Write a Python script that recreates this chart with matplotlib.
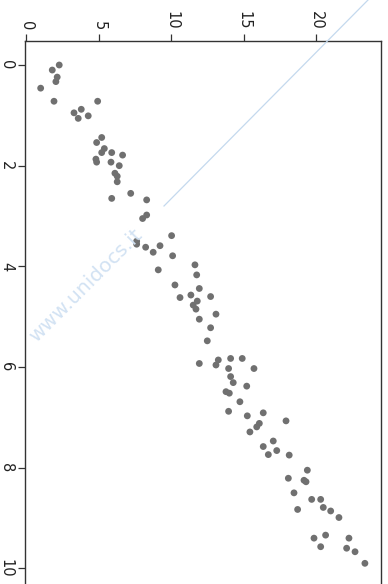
import matplotlib
matplotlib.use("Agg")
import matplotlib.pyplot as plt
from matplotlib.lines import Line2D

# scatter data (x runs down the page, y runs across: the chart is turned 90 degrees)
x_vals = [0.00, 0.10, 0.24, 0.33, 0.46, 0.72, 0.72, 0.95, 0.88, 1.06,
          1.01, 1.44, 1.54, 1.66, 1.74, 1.74, 1.79, 1.87, 1.93, 1.93,
          2.00, 2.15, 2.21, 2.32, 2.55, 2.65, 2.68, 3.05, 2.98, 3.50,
          3.56, 3.62, 3.72, 3.59, 3.39, 3.79, 4.07, 3.97, 4.17, 4.37,
          4.44, 4.62, 4.57, 4.60, 4.69, 4.77, 4.85, 4.95, 5.05, 5.22,
          5.48, 5.93, 5.86, 5.96, 5.83, 5.83, 6.03, 6.03, 6.19, 6.31,
          6.38, 6.49, 6.52, 6.69, 6.88, 6.97, 6.91, 7.07, 7.12, 7.19,
          7.29, 7.47, 7.58, 7.66, 7.74, 7.75, 8.05, 8.21, 8.25, 8.28,
          8.50, 8.63, 8.63, 8.79, 8.86, 8.83, 8.99, 9.40, 9.34, 9.40,
          9.57, 9.60, 9.67, 9.90]
y_vals = [2.26, 1.78, 2.12, 2.03, 0.98, 1.90, 4.91, 3.28, 3.78, 3.57,
          4.26, 5.19, 4.84, 5.37, 5.19, 5.88, 6.63, 4.79, 4.84, 5.83,
          6.40, 6.10, 6.26, 6.26, 7.19, 5.88, 8.29, 8.01, 8.29, 7.60,
          7.60, 8.22, 8.74, 9.21, 10.01, 10.08, 9.09, 11.62, 11.74, 10.24,
          11.92, 10.59, 11.34, 12.70, 11.78, 11.50, 11.69, 13.07, 11.92, 12.70,
          12.47, 11.92, 13.23, 13.07, 14.08, 14.88, 15.69, 13.94, 14.08, 14.26,
          15.19, 13.76, 13.99, 14.72, 13.94, 15.23, 16.33, 17.90, 16.06, 15.88,
          15.41, 17.02, 16.33, 17.26, 16.68, 18.12, 19.37, 18.06, 19.14, 19.28,
          18.45, 19.67, 20.29, 20.47, 20.98, 18.70, 21.55, 19.83, 20.63, 22.24,
          20.29, 22.08, 22.66, 23.34]

x_ticks = [0, 2, 4, 6, 8, 10]
y_ticks = [0, 5, 10, 15, 20]

fig = plt.figure(figsize=(3.88, 5.84), dpi=100)
ax = fig.add_axes([25 / 388, -0.0163, 356 / 388, 0.9461])

ax.scatter(y_vals, x_vals, s=24, color="#707070", edgecolors="none", zorder=3)

ax.set_xlim(-0.1, 24.45)
ax.set_ylim(10.5, -0.477)

ax.xaxis.tick_top()
ax.set_xticks(y_ticks)
ax.set_xticklabels([str(t) for t in y_ticks], rotation=-90, fontsize=10.5)
ax.set_yticks(x_ticks)
ax.set_yticklabels([str(t) for t in x_ticks], rotation=-90, va="center", fontsize=10.5)
ax.tick_params(length=5, width=0.9, color="#333333", pad=3, labelcolor="#222222")

for side in ["top", "left", "right", "bottom"]:
    ax.spines[side].set_color("#333333")
    ax.spines[side].set_linewidth(1.0)

# faint watermark over the page
fig.add_artist(Line2D([368 / 388, 164 / 388], [1.0, 1 - 206 / 584],
                      color="#c4d9ee", linewidth=0.9, zorder=5))
fig.text(86 / 388, 1 - 286 / 584, "www.unidocs.it", rotation=45,
         ha="center", va="center", fontsize=14.5, color="#d2e2f3", zorder=5)

fig.savefig("out.png", dpi=100)
